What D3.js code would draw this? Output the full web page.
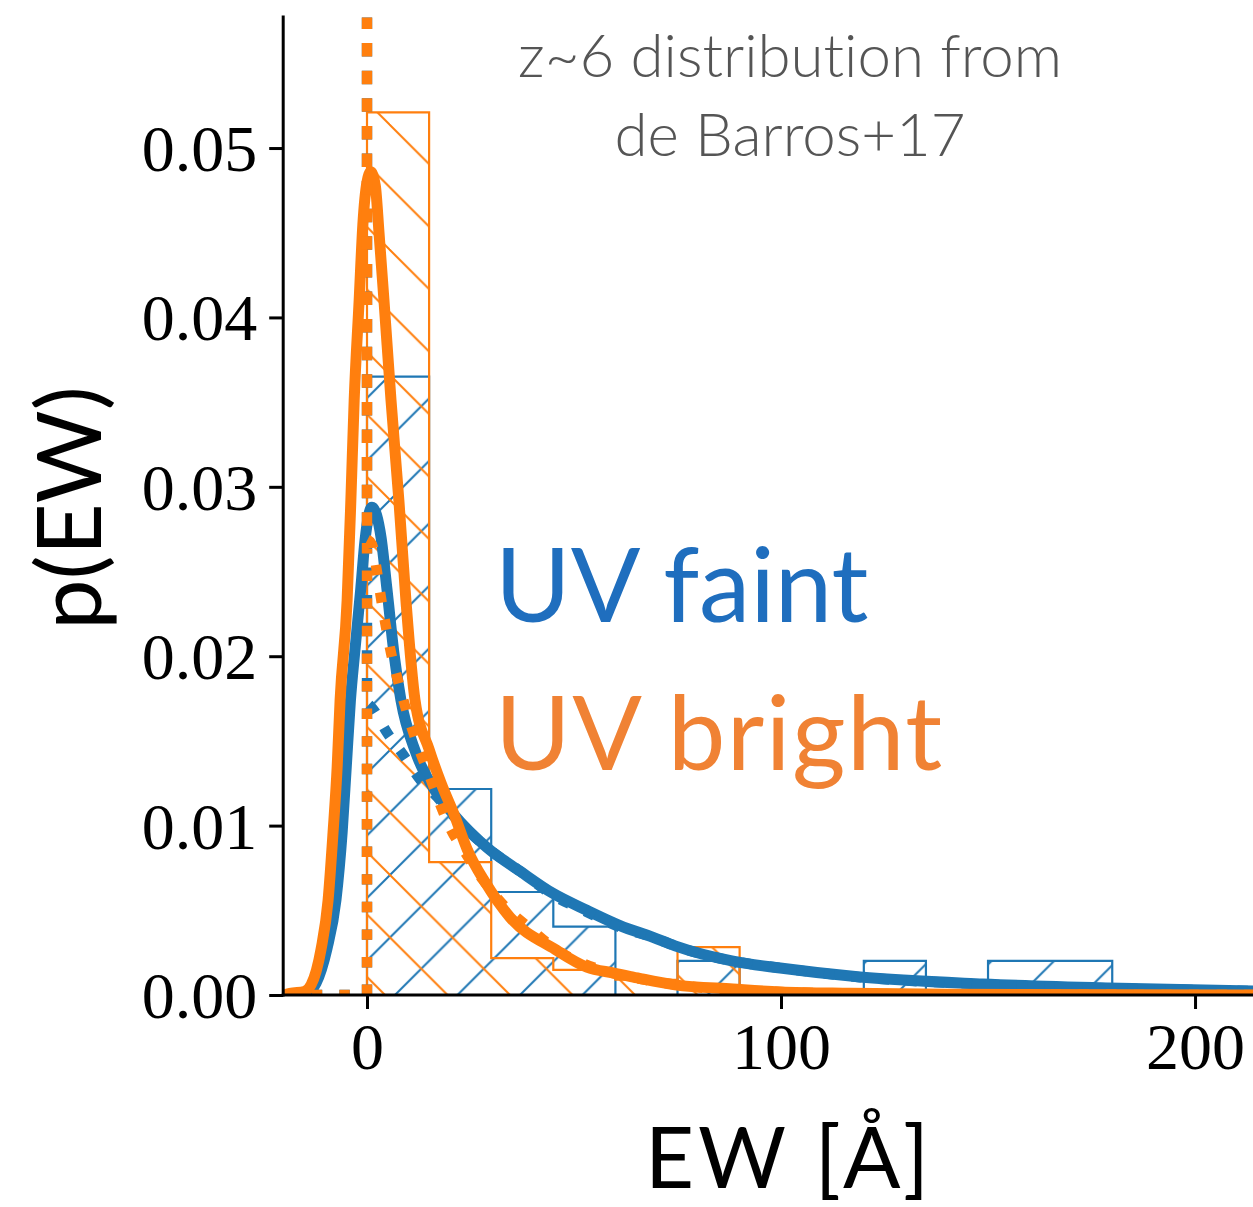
<!DOCTYPE html>
<html>
<head>
<meta charset="utf-8">
<script src="https://cdn.jsdelivr.net/npm/d3@7"></script>
<style>
  body { margin: 0; background: #ffffff; }
  svg { display: block; }
  text { font-variant-ligatures: none; }
</style>
</head>
<body>
<script>
// ---- data ---------------------------------------------------------------
// histogram bin edges in EW [Å] and normalised densities per bin
const binEdges   = [0, 15, 30, 45, 60, 75, 90, 105, 120, 135, 150, 165, 180];
const faintHist  = [0.0365, 0.01216, 0.00608, 0.00404, 0, 0.00201, 0, 0, 0.00201, 0, 0.00201, 0.00201];
const brightHist = [0.0521, 0.00785, 0.00218, 0.00148, 0.0009, 0.00283, 0, 0, 0, 0, 0, 0];

// observed p(EW), UV faint (solid)
const faintEW = [-20, -15, -12.3, -9.7, -7.5, -6.0, -5.0, -4.0, -2.9, -1.5, -0.5, 1.2, 3.4, 4.8, 6.6, 8.2, 11.8, 16.9, 20.8, 29.0, 37.0, 44.9, 53.1, 61.1, 69.1, 74.4, 88.4, 99.8, 119.1, 148.8, 179.0, 214];
const faintP  = [0, 0.00003, 0.0007, 0.0027, 0.0056, 0.0096, 0.0135, 0.0174, 0.0204, 0.0240, 0.0268, 0.0288, 0.0270, 0.0240, 0.0200, 0.0174, 0.0143, 0.0119, 0.0107, 0.0087, 0.0073, 0.0060, 0.0050, 0.0041, 0.0034, 0.0029, 0.0020, 0.00159, 0.00106, 0.00065, 0.00041, 0.00024];

// observed p(EW), UV bright (solid)
const brightEW = [-20, -18.6, -15.2, -13.5, -11.1, -9.4, -8.2, -7.2, -6.5, -4.8, -3.9, -3.1, -1.9, -1.0, 0, 0.9, 2.0, 2.9, 4.1, 5.8, 7.7, 9.4, 11.6, 15.0, 17.9, 21.3, 24.2, 28.7, 34.5, 45.4, 53.1, 59.4, 64.3, 74.4, 88.4, 99.8, 116.7, 140, 214];
const brightP  = [0, 0.0001, 0.0002, 0.0006, 0.0027, 0.0056, 0.0096, 0.0135, 0.0174, 0.0233, 0.0292, 0.0351, 0.0410, 0.0455, 0.0480, 0.0486, 0.0478, 0.0450, 0.0410, 0.0351, 0.0292, 0.0233, 0.0174, 0.0145, 0.0125, 0.0105, 0.0086, 0.0066, 0.0046, 0.0027, 0.00165, 0.0013, 0.00106, 0.0006, 0.00035, 0.00018, 0.0001, 0.00004, 0];

// intrinsic p(EW) (dotted): spike at EW = 0 plus a decaying tail
const spikeTop = 1;
const faintIntEW = [-20, 0, 0, 0, 1.4, 4.8, 8.7, 12.6, 16.9, 20.8, 29.0, 37.0, 44.9, 53.1, 61.1, 69.1, 74.4, 88.4, 99.8, 119.1, 148.8, 179.0, 214];
const faintIntP  = [0, 0, spikeTop, 0.01724, 0.0169, 0.0155, 0.0142, 0.0128, 0.0117, 0.0106, 0.0087, 0.0073, 0.0059, 0.0049, 0.0040, 0.0034, 0.0029, 0.0020, 0.0016, 0.00105, 0.00064, 0.0004, 0.00024];

const brightIntEW = [-20, 0, 0, 0, 1.2, 2.4, 3.4, 4.6, 5.8, 8.0, 10.0, 12.6, 15.0, 17.6, 20.0, 24.0, 28.0, 33.0, 40.0, 45.0, 55.0, 65.0, 80.0, 100.0, 130.0, 214];
const brightIntP  = [0, 0, spikeTop, 0.0269, 0.0266, 0.0250, 0.0234, 0.0217, 0.0202, 0.0181, 0.0164, 0.0145, 0.0130, 0.0113, 0.0099, 0.0083, 0.0068, 0.0053, 0.0038, 0.0028, 0.0016, 0.0010, 0.00045, 0.00018, 0.00005, 0];

const xTicks = [0, 100, 200];
const yTicks = [0, 0.01, 0.02, 0.03, 0.04, 0.05];
const titleLines = ["z~6 distribution from", "de Barros+17"];
const seriesLabels = ["UV faint", "UV bright"];

// ---- layout -------------------------------------------------------------
const W = 1253, H = 1207;
const plot = { left: 284.2, right: 1253, top: 17.6, bottom: 995 };
const blue = "#1f77b4", orange = "#ff7f0e";
const lw = 11;

const x = d3.scaleLinear().domain([-20, 214]).range([plot.left, plot.right]);
const y = d3.scaleLinear().domain([0, 0.0577]).range([plot.bottom, plot.top]);

const svg = d3.select("body").append("svg")
  .attr("width", W).attr("height", H)
  .attr("viewBox", `0 0 ${W} ${H}`);

const defs = svg.append("defs");
defs.append("clipPath").attr("id", "plotClip")
  .append("rect")
  .attr("x", plot.left).attr("y", plot.top)
  .attr("width", plot.right - plot.left).attr("height", plot.bottom - plot.top);

// diagonal hatch tiles (page coordinates)
function hatch(id, color, forward) {
  const s = 62.5;
  const p = defs.append("pattern").attr("id", id)
    .attr("patternUnits", "userSpaceOnUse")
    .attr("x", 15).attr("y", 0).attr("width", s).attr("height", s);
  const segs = forward
    ? [[0, s, s, 0], [-3, 3, 3, -3], [s - 3, s + 3, s + 3, s - 3]]
    : [[0, 0, s, s], [-3, s - 3, 3, s + 3], [s - 3, -3, s + 3, 3]];
  segs.forEach(d => p.append("line")
    .attr("x1", d[0]).attr("y1", d[1]).attr("x2", d[2]).attr("y2", d[3])
    .attr("stroke", color).attr("stroke-width", 2));
}
hatch("hatchFaint", blue, true);
hatch("hatchBright", orange, false);

const g = svg.append("g").attr("clip-path", "url(#plotClip)");

// step outline of a histogram
function stepPoints(vals) {
  const pts = [[binEdges[0], 0]];
  vals.forEach((v, i) => { pts.push([binEdges[i], v]); pts.push([binEdges[i + 1], v]); });
  pts.push([binEdges[binEdges.length - 1], 0]);
  return pts;
}
const stepLine = d3.line().x(d => x(d[0])).y(d => y(d[1]));

g.append("path").attr("d", stepLine(stepPoints(faintHist)))
  .attr("fill", "url(#hatchFaint)").attr("stroke", blue).attr("stroke-width", 2.2)
  .attr("stroke-linejoin", "miter");
g.append("path").attr("d", stepLine(stepPoints(brightHist)))
  .attr("fill", "url(#hatchBright)").attr("stroke", orange).attr("stroke-width", 2.2)
  .attr("stroke-linejoin", "miter");

const smooth = d3.line().x(d => x(d[0])).y(d => y(d[1])).curve(d3.curveMonotoneX);
const straight = d3.line().x(d => x(d[0])).y(d => y(d[1]));
const zip = (a, b) => a.map((v, i) => [v, b[i]]);

function drawSolid(ew, p, color) {
  g.append("path").attr("d", smooth(zip(ew, p)))
    .attr("fill", "none").attr("stroke", color).attr("stroke-width", lw)
    .attr("stroke-linejoin", "round").attr("stroke-linecap", "butt");
}
function drawDotted(ew, p, color) {
  // spike part drawn straight, tail smoothed
  const pts = zip(ew, p);
  const head = pts.slice(0, 4);
  const tail = pts.slice(3);
  const d = straight(head) + smooth(tail).replace(/^M[^CLM]*/, "");
  g.append("path").attr("d", d)
    .attr("fill", "none").attr("stroke", color).attr("stroke-width", lw - 0.6)
    .attr("stroke-dasharray", "10.4,17.2").attr("stroke-linecap", "butt");
}

drawSolid(faintEW, faintP, blue);
drawDotted(faintIntEW, faintIntP, blue);
drawSolid(brightEW, brightP, orange);
drawDotted(brightIntEW, brightIntP, orange);

// ---- axes ---------------------------------------------------------------
const serif = "'Liberation Serif', 'DejaVu Serif', serif";
const sans = "Lato, 'Open Sans', sans-serif";

const yAxis = svg.append("g")
  .attr("transform", `translate(${plot.left - 1},0)`)
  .call(d3.axisLeft(y).tickValues(yTicks).tickFormat(d3.format(".2f")).tickSize(14).tickPadding(12));
const xAxis = svg.append("g")
  .attr("transform", `translate(0,${plot.bottom})`)
  .call(d3.axisBottom(x).tickValues(xTicks).tickFormat(d3.format("d")).tickSize(14).tickPadding(12));

[yAxis, xAxis].forEach(ax => {
  ax.select(".domain").remove();
  ax.selectAll(".tick line").attr("stroke", "#000").attr("stroke-width", 3);
  ax.selectAll(".tick text").attr("fill", "#000")
    .style("font-family", serif).style("font-size", "66px");
});
yAxis.selectAll(".tick text").attr("dy", "0.34em");
xAxis.selectAll(".tick text").attr("dy", "0.72em");

// spines
svg.append("line").attr("x1", plot.left - 1).attr("x2", plot.left - 1)
  .attr("y1", plot.top - 2).attr("y2", plot.bottom + 1.5)
  .attr("stroke", "#000").attr("stroke-width", 3);
svg.append("line").attr("x1", plot.left - 2.5).attr("x2", W)
  .attr("y1", plot.bottom).attr("y2", plot.bottom)
  .attr("stroke", "#000").attr("stroke-width", 3);

// axis titles
svg.append("text").attr("transform", "translate(101,508) rotate(-90)")
  .attr("text-anchor", "middle").attr("fill", "#000")
  .style("font-family", sans).style("font-size", "90px")
  .text("p(EW)");
svg.append("text").attr("x", 789).attr("y", 1188)
  .attr("text-anchor", "middle").attr("fill", "#000")
  .style("font-family", sans).style("font-size", "85px")
  .style("letter-spacing", "4px")
  .text("EW [Å]");

// annotation
svg.append("text").attr("x", 790).attr("y", 77)
  .attr("text-anchor", "middle").attr("fill", "#555555")
  .style("font-family", sans).style("font-weight", 300).style("font-size", "60px")
  .text(titleLines[0]);
svg.append("text").attr("x", 790).attr("y", 156)
  .attr("text-anchor", "middle").attr("fill", "#555555")
  .style("font-family", sans).style("font-weight", 300).style("font-size", "60px")
  .text(titleLines[1]);

// series labels
svg.append("text").attr("x", 495).attr("y", 622)
  .attr("fill", "#1f6ebe")
  .style("font-family", sans).style("font-size", "103px")
  .text(seriesLabels[0]);
svg.append("text").attr("x", 495).attr("y", 770)
  .attr("fill", "#f08234")
  .style("font-family", sans).style("font-size", "103px")
  .style("letter-spacing", "1.5px")
  .text(seriesLabels[1]);
</script>
</body>
</html>
